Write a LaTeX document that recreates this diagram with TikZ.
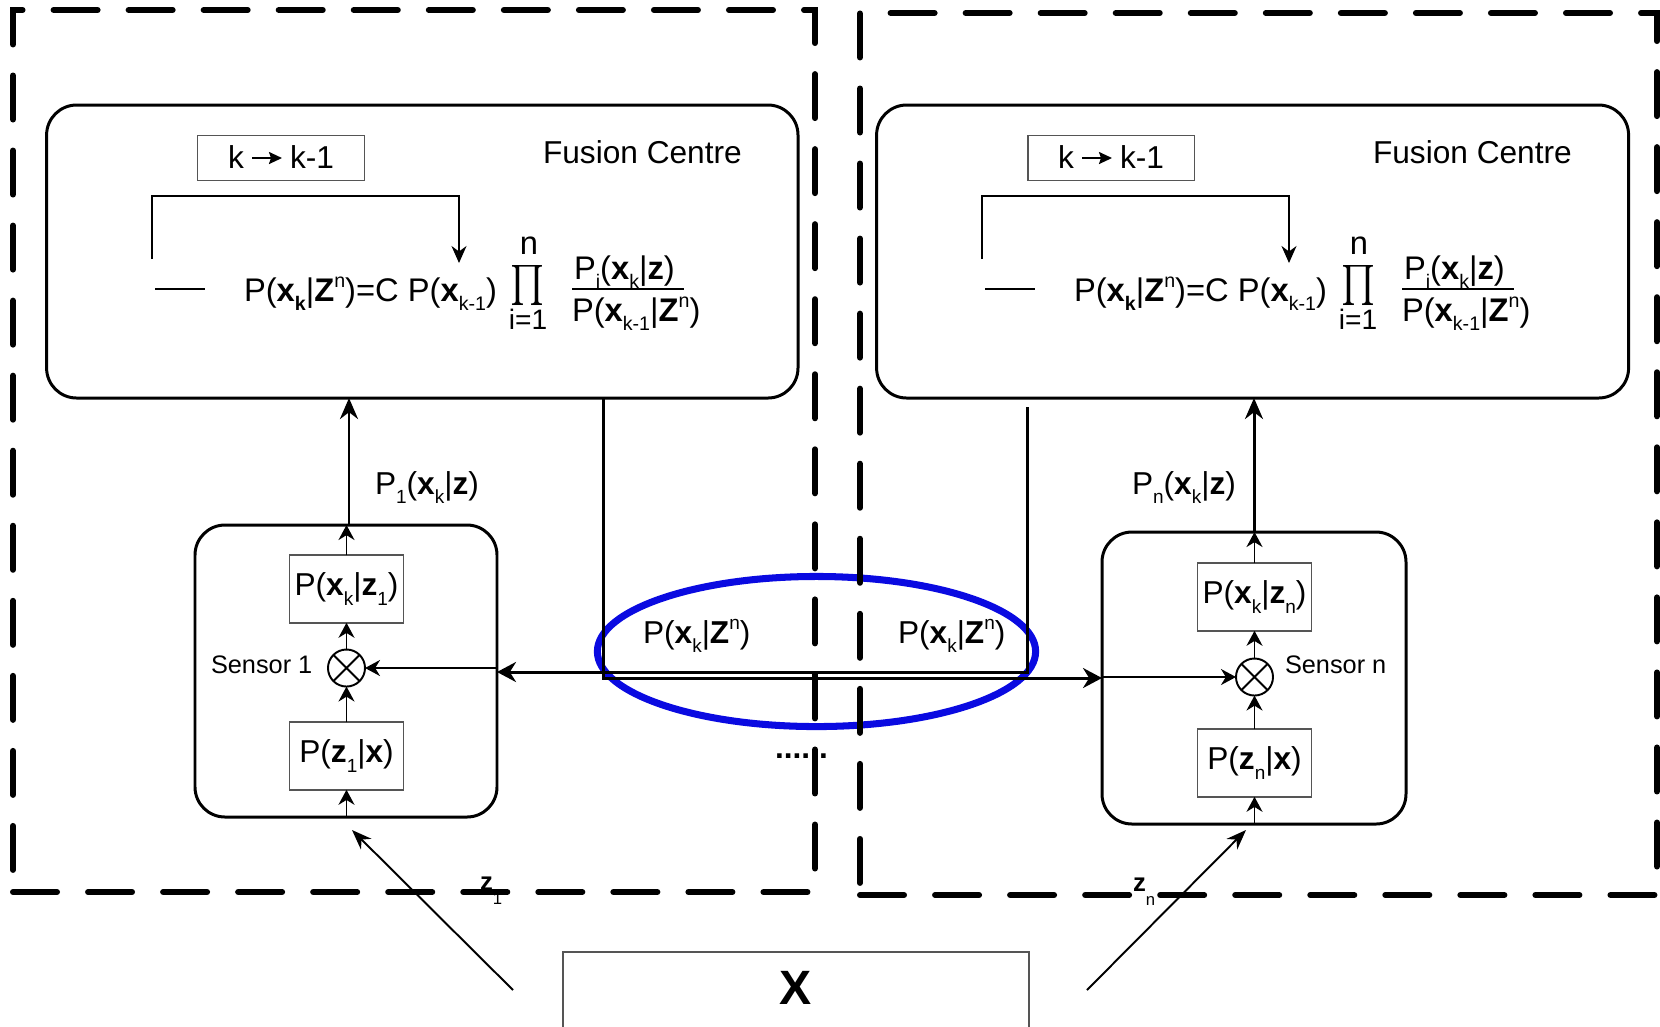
\documentclass[tikz,border=0pt]{standalone}
\usepackage{fontspec}
\setmainfont{Liberation Sans}
\usepackage{graphicx}
\usetikzlibrary{arrows.meta,calc,fit,shapes.geometric}

\definecolor{ringblue}{RGB}{10,10,225}
\definecolor{boxgray}{RGB}{85,85,85}

% sub- and superscripts set as small raised/lowered text
\newcommand\dn[1]{\raisebox{-0.55ex}{\scalebox{0.6}{#1}}}
\newcommand\upn[1]{\raisebox{0.8ex}{\scalebox{0.6}{#1}}}
\newcommand\bx{\textbf{x}}
\newcommand\bz{\textbf{z}}
\newcommand\bZ{\textbf{Z}}

\begin{document}
\begin{tikzpicture}[x=0.01cm, y=-0.01cm,
  font=\fontsize{9}{10.8}\selectfont,
  every node/.style={inner sep=0pt, outer sep=0pt},
  zone/.style={draw, line width=1.7pt, dash pattern=on 0.44cm off 0.31cm, line cap=round},
  unit/.style={draw, line width=0.85pt, rounded corners=0.3cm},
  stage/.style={draw=boxgray, line width=0.45pt, minimum width=1.14cm, minimum height=0.675cm},
  mixer/.style={draw, circle, line width=0.55pt, minimum size=0.37cm},
  fine/.style={line width=0.55pt},
  finearrow/.style={fine, -{Stealth[length=0.15cm, width=0.16cm]}},
  link/.style={line width=0.85pt, -{Stealth[length=0.19cm, width=0.2cm]}},
  feed/.style={line width=0.85pt, -{Stealth[length=0.21cm, width=0.18cm]}},
  ring/.style={draw=ringblue, line width=2pt},
  eqfont/.style={font=\fontsize{9.3}{11.2}\selectfont},
  sensfont/.style={font=\fontsize{7.2}{8.6}\selectfont},
]
\path[use as bounding box] (0,0) rectangle (1660,1026);
\clip (0,0) rectangle (1660,1026);

% ---------- shared estimate ring ----------
\node[ring, ellipse, minimum width=4.38cm, minimum height=1.5cm] (share) at (816.5,651.5) {};

% ---------- node regions ----------
\node[zone, fit={(13,10) (815,892)}] (zoneL) {};
\node[zone, fit={(860,13) (1657,895)}] (zoneR) {};

% ---------- fusion centres ----------
\node[unit, fit={(46.6,105) (798,398)}] (fcL) {};
\node[unit, fit={(876.6,105) (1628.6,398)}] (fcR) {};

\foreach \s/\dx in {L/0, R/830} {
  \begin{scope}[xshift=\dx*0.01cm]
    \node[anchor=base west] (title\s) at (543,163) {Fusion Centre};
    \node[stage, minimum width=1.665cm, minimum height=0.45cm] (kbox\s) at (281,158) {};
    \node[anchor=base east] (kold\s) at (244,168) {k};
    \node[anchor=base west] (knew\s) at (290,168) {k-1};
    \draw[fine, -{Stealth[length=0.13cm, width=0.12cm, inset=0.02cm]}]
      (kold\s.east |- kbox\s) ++(8,0) coordinate (ka\s) -- ($(knew\s.west |- kbox\s)+(-8,0)$);
    % feedback of the previous posterior
    \coordinate (fbA\s) at (152,259);
    \coordinate (fbB\s) at (459,263);
    \draw[fine, -{Stealth[length=0.17cm, width=0.15cm]}] (fbA\s) -- ++(0,-63) -| (fbB\s);
    \coordinate (barA\s) at (155,289);
    \coordinate (barB\s) at (205,289);
    \draw[fine] (barA\s) -- (barB\s);
    % fusion rule
    \node[eqfont, anchor=base west] (eq\s) at (244,301)
      {P(\bx\dn{\textbf{k}}|\bZ\upn{n})=C P(\bx\dn{k-1})};
    \node (prod\s) at (528,285) {\resizebox{0.34cm}{0.29cm}{$\prod$}};
    \node[eqfont, anchor=base] (pup\s) at (529,254) {n};
    \node[font=\fontsize{8}{9}\selectfont, anchor=base] (plo\s) at (528,329) {i=1};
    \node[eqfont, anchor=base west] (num\s) at (574,279) {P\dn{i}(\bx\dn{k}|\bz)};
    \coordinate (fracA\s) at (572,289);
    \coordinate (fracB\s) at (684,289);
    \draw[fine] (fracA\s) -- (fracB\s);
    \node[eqfont, anchor=base west] (den\s) at (572,321) {P(\bx\dn{k-1}|\bZ\upn{n})};
  \end{scope}
}

% ---------- sensors ----------
\node[unit, fit={(195,525) (497,817)}] (sL) {};
\node[unit, fit={(1102,532) (1406,824)}] (sR) {};

\node[stage] (postL) at (346.5,589) {P(\bx\dn{k}|\bz\dn{1})};
\node[stage] (likeL) at (346.5,756) {P(\bz\dn{1}|\bx)};
\node[mixer] (oL) at (346.5,668) {};
\draw[fine] (oL.45) -- (oL.225) (oL.135) -- (oL.315);
\node[sensfont, anchor=base west] (nameL) at (211,673) {Sensor 1};

\node[stage] (postR) at (1254.5,597) {P(\bx\dn{k}|\bz\dn{n})};
\node[stage] (likeR) at (1254.5,763) {P(\bz\dn{n}|\bx)};
\node[mixer] (oR) at (1254.5,677) {};
\draw[fine] (oR.45) -- (oR.225) (oR.135) -- (oR.315);
\node[sensfont, anchor=base west] (nameR) at (1285,673) {Sensor n};

% internal chains
\draw[finearrow] (likeL.south |- sL.south) -- (likeL.south);
\draw[finearrow] (likeL.north) -- (oL.south);
\draw[finearrow] (oL.north) -- (postL.south);
\draw[finearrow] (postL.north) -- (postL.north |- sL.north);
\draw[finearrow] (likeR.south |- sR.south) -- (likeR.south);
\draw[finearrow] (likeR.north) -- (oR.south);
\draw[finearrow] (oR.north) -- (postR.south);
\draw[finearrow] (postR.north) -- (postR.north |- sR.north);

% local posteriors up to the fusion centres
\coordinate (upL) at (349,0);
\coordinate (upR) at (1254,0);
\draw[feed] (upL |- sL.north) -- (upL |- fcL.south);
\draw[feed] (upR |- sR.north) -- (upR |- fcR.south);
\node[anchor=base west] (plL) at (375,494) {P\dn{1}(\bx\dn{k}|\bz)};
\node[anchor=base west] (plR) at (1132,494) {P\dn{n}(\bx\dn{k}|\bz)};

% exchange of fused estimates
\coordinate (tapL) at (603,398);
\coordinate (bendL) at (603,678);
\coordinate (tapR) at (1027,407);
\coordinate (bendR) at (1027,672);
\draw[link] (tapL) -- (bendL) -- (sR.west |- bendL);
\draw[link] (tapR) -- (bendR) -- (sL.east |- bendR);
\draw[finearrow] (sR.west |- oR) -- (oR.west);
\draw[finearrow] (sL.east |- oL) -- (oL.east);

\node[anchor=base west] (shareA) at (643,643) {P(\bx\dn{k}|\bZ\upn{n})};
\node[anchor=base west] (shareB) at (898,643) {P(\bx\dn{k}|\bZ\upn{n})};
\node[anchor=base west] (dots) at (775,758) {\textbf{......}};

% ---------- state and measurements ----------
\node[stage, minimum width=4.66cm, minimum height=0.9cm, anchor=north] (world) at (796,952) {};
\node[font=\fontsize{13.7}{16}\selectfont\bfseries] (state) at (796,988) {X};

\coordinate (zsrcL) at (513,990);
\coordinate (zdstL) at (352,830);
\coordinate (zsrcR) at (1087,990);
\coordinate (zdstR) at (1246,830);
\draw[fine, -{Stealth[length=0.2cm, width=0.15cm]}] (zsrcL) -- (zdstL);
\draw[fine, -{Stealth[length=0.2cm, width=0.15cm]}] (zsrcR) -- (zdstR);
\node[font=\fontsize{7.3}{8}\selectfont, anchor=base west] (zL) at (480,890)
  {\bz\raisebox{-1.1ex}{\scalebox{0.65}{1}}};
\node[font=\fontsize{7.3}{8}\selectfont, anchor=base west] (zR) at (1133,891)
  {\bz\raisebox{-1.1ex}{\scalebox{0.65}{n}}};
\end{tikzpicture}
\end{document}
